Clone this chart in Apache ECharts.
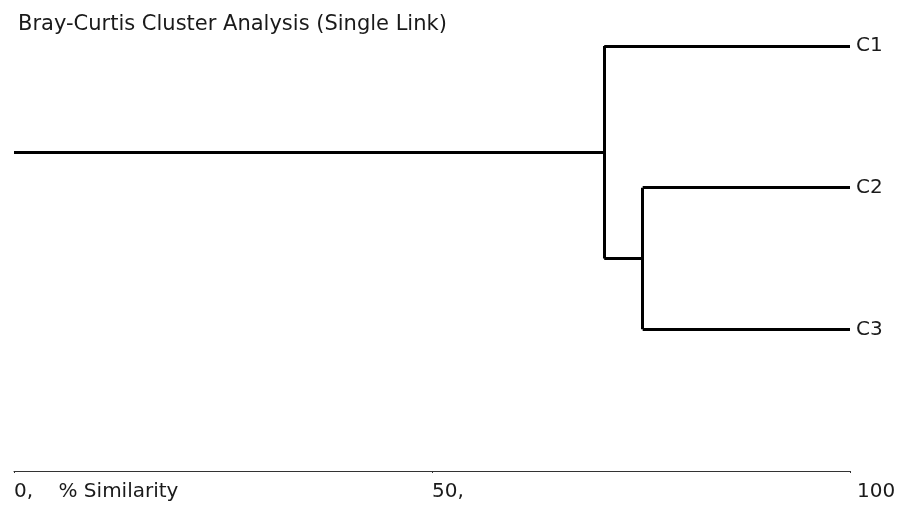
<!DOCTYPE html>
<html><head><meta charset="utf-8">
<script src="https://cdn.jsdelivr.net/npm/echarts@6/dist/echarts.min.js"></script>
<style>html,body{margin:0;padding:0;background:#fff}#c{width:904px;height:512px}</style>
</head><body><div id="c"></div>
<script>
// Data
const leafNames = ['C1', 'C2', 'C3'];
const leafOrder = [1, 2, 3];
const mergeLeft = ['C2', 'C1'];
const mergeRight = ['C3', 'C2+C3'];
const mergeSimilarity = [75.2, 70.6];
const tickValues = [0, 50, 100];
const tickLabels = ['0,    % Similarity', '50,', '100'];

// Build dendrogram segments
const nodes = {};
leafNames.forEach((n, i) => { nodes[n] = { y: leafOrder[i], x: 100 }; });
const segs = [];
let lastName = null;
mergeLeft.forEach((a, i) => {
  const b = mergeRight[i];
  const s = mergeSimilarity[i];
  const A = nodes[a], B = nodes[b];
  segs.push([[A.x, A.y], [s, A.y]]);
  segs.push([[B.x, B.y], [s, B.y]]);
  segs.push([[s, A.y], [s, B.y]]);
  const name = a + '+' + b;
  nodes[name] = { y: (A.y + B.y) / 2, x: s };
  lastName = name;
});
const root = nodes[lastName];
segs.push([[0, root.y], [root.x, root.y]]);

const chart = echarts.init(document.getElementById('c'));
const FONT = 'DejaVu Sans';
const FS = 20;
chart.setOption({
  animation: false,
  title: {
    text: 'Bray-Curtis Cluster Analysis (Single Link)',
    left: 13, top: 9,
    textStyle: { fontFamily: FONT, fontSize: 21, fontWeight: 'normal', color: '#1a1a1a' }
  },
  grid: { left: 14, right: 54, top: 46, bottom: 41 },
  xAxis: {
    type: 'value', min: 0, max: 100, interval: 50,
    splitLine: { show: false },
    axisLine: { show: true, lineStyle: { color: '#333', width: 1 } },
    axisTick: { show: true, length: 2, lineStyle: { color: '#333' } },
    axisLabel: {
      fontFamily: FONT, fontSize: FS, color: '#1a1a1a', align: 'left', margin: 11,
      formatter: v => {
        const i = tickValues.indexOf(v);
        if (i < 0) return '';
        return i === tickValues.length - 1 ? '{r|' + tickLabels[i] + '}' : tickLabels[i];
      },
      rich: { r: { fontFamily: FONT, fontSize: FS, color: '#1a1a1a', padding: [0, 0, 0, 7] } }
    }
  },
  yAxis: { type: 'value', min: 1, max: 4, inverse: true, show: false },
  series: [
    {
      type: 'lines', coordinateSystem: 'cartesian2d', polyline: false, silent: true,
      lineStyle: { color: '#000', width: 3, opacity: 1 },
      data: segs.map(c => ({ coords: c }))
    },
    {
      type: 'scatter', symbolSize: 0, silent: true,
      itemStyle: { opacity: 1 },
      data: leafNames.map((n, i) => ({ value: [100, leafOrder[i]], name: n })),
      label: { show: true, position: 'right', distance: 6, formatter: p => p.name,
               fontFamily: FONT, fontSize: FS, color: '#1a1a1a' }
    }
  ]
});
</script></body></html>
